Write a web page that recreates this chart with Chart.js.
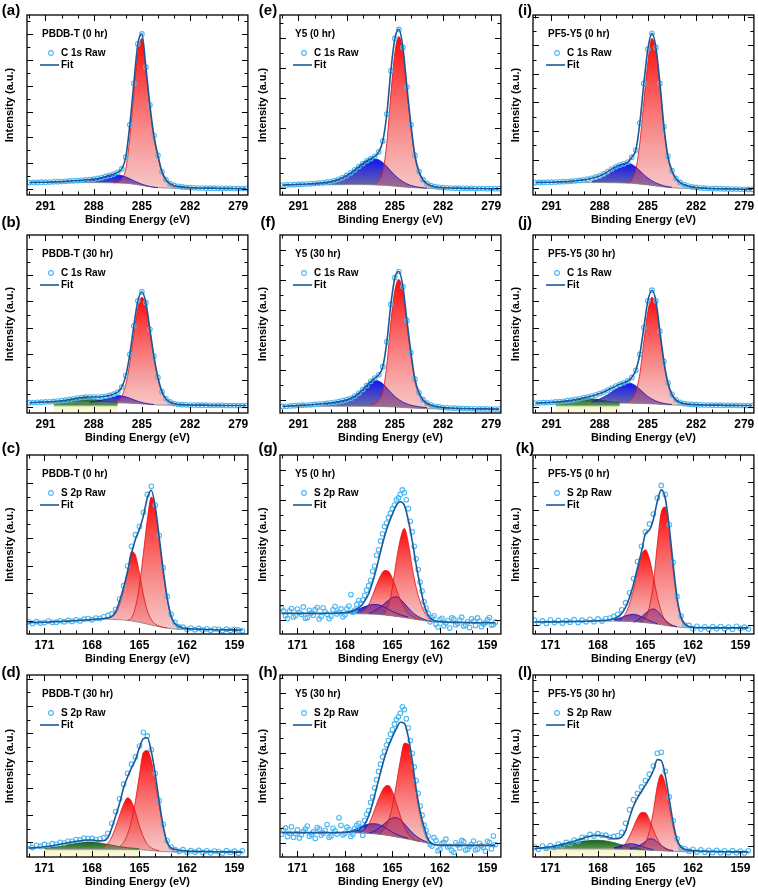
<!DOCTYPE html>
<html><head><meta charset="utf-8">
<script src="https://cdn.jsdelivr.net/npm/chart.js@4.4.1/dist/chart.umd.min.js"></script>
<style>
html,body{margin:0;padding:0;background:#fff;}
#wrap{position:relative;width:758px;height:893px;overflow:hidden;font-family:"Liberation Sans",Arial,sans-serif;}
.pc{position:absolute;}
.lab{position:absolute;font-weight:bold;font-size:15px;transform:translate(-50%,-50%);color:#000;white-space:nowrap;}
</style></head><body><div id="wrap"></div>
<script>
// ---------- energy grids (eV) ----------
const E_C = [292,291.75,291.5,291.25,291,290.75,290.5,290.25,290,289.75,289.5,289.25,289,288.75,288.5,288.25,288,287.75,287.5,287.25,287,286.75,286.5,286.25,286,285.75,285.5,285.25,285,284.75,284.5,284.25,284,283.75,283.5,283.25,283,282.75,282.5,282.25,282,281.75,281.5,281.25,281,280.75,280.5,280.25,280,279.75,279.5,279.25,279,278.75,278.5];
const E_S = [172,171.75,171.5,171.25,171,170.75,170.5,170.25,170,169.75,169.5,169.25,169,168.75,168.5,168.25,168,167.75,167.5,167.25,167,166.75,166.5,166.25,166,165.75,165.5,165.25,165,164.75,164.5,164.25,164,163.75,163.5,163.25,163,162.75,162.5,162.25,162,161.75,161.5,161.25,161,160.75,160.5,160.25,160,159.75,159.5,159.25,159,158.75,158.5];
const E_S2 = [171.875,171.625,171.375,171.125,170.875,170.625,170.375,170.125,169.875,169.625,169.375,169.125,168.875,168.625,168.375,168.125,167.875,167.625,167.375,167.125,166.875,166.625,166.375,166.125,165.875,165.625,165.375,165.125,164.875,164.625,164.375,164.125,163.875,163.625,163.375,163.125,162.875,162.625,162.375,162.125,161.875,161.625,161.375,161.125,160.875,160.625,160.375,160.125,159.875,159.625,159.375,159.125,158.875,158.625];
const TICKS_C = [291,288,285,282,279];
const TICKS_S = [171,168,165,162,159];

// ---------- (a) PBDB-T 0 hr, C 1s ----------
const a_fit = [6.9,7.0,7.0,7.1,7.1,7.2,7.3,7.4,7.5,7.6,7.8,7.9,8.0,8.2,8.4,8.6,8.8,9.2,9.7,10.3,10.9,11.6,12.6,14.5,21,39,62,84,89.5,71,50,33,22,13,8.5,6.3,5.3,4.8,4.5,4.3,4.1,4.0,3.9,3.9,3.8,3.8,3.8,3.7,3.7,3.7,3.7,3.6,3.6,3.6,3.6];
const a_bg = {e:[292,288,287,286,285.5,285,284.5,284,283,278.5], y:[6.9,6.9,6.8,6.5,6.0,5.3,4.6,4.1,3.7,3.5]};
const a_blue = {from:289, y:[7.0,7.2,7.5,7.9,8.4,9.0,9.6,10.2,10.7,11.0,11.1,10.8,10.0,9.0,7.9,6.9,6.0,5.3,4.7,4.3,4.1]};
const a_red = {from:286.75, y:[6.8,7.2,9.0,14.5,32,56,79,87,69,48.5,31.5,21,12.3,8.0,5.8,4.8,4.3,4.0,3.8]};

// ---------- (b) PBDB-T 30 hr, C 1s ----------
const b_fit = [5.8,5.9,6.0,6.1,6.2,6.3,6.5,6.7,6.9,7.2,7.6,8.0,8.4,8.7,8.9,9.0,9.0,9.0,9.1,9.4,9.9,10.6,11.8,14.5,21,33,49,63,68,62,47,32,20,12,8.0,6.2,5.3,4.9,4.7,4.6,4.5,4.5,4.4,4.4,4.4,4.3,4.3,4.3,4.3,4.2,4.2,4.2,4.2,4.2,4.2];
const b_bg = {e:[292,288,287,286,285.5,285,284.5,284,283,278.5], y:[5.8,5.8,5.8,5.6,5.4,5.1,4.8,4.5,4.3,4.2]};
const b_green = {from:290.5, y:[5.9,6.1,6.4,6.8,7.2,7.6,7.9,8.1,8.2,8.1,7.8,7.4,7.0,6.6,6.3,6.1,5.9]};
const b_blue = {from:288.25, y:[6.0,6.3,6.8,7.4,8.1,8.8,9.4,9.7,9.6,9.1,8.3,7.4,6.6,5.9,5.4,5.0,4.8]};
const b_red = {from:286.75, y:[6.0,7.0,9.5,16,28,44,59,65,60,45.5,31,19.4,11.6,7.7,6.0,5.1,4.7,4.5]};

// ---------- (e) Y5 0 hr, C 1s ----------
const e_fit = [5.5,5.6,5.7,5.8,5.9,6.0,6.1,6.2,6.4,6.6,6.8,7.1,7.5,8.0,8.7,9.7,10.9,12.3,14.0,15.8,17.5,19.0,20.2,21.5,24,30,45,69,87,92,82,60,39,22,13,8.5,6.3,5.2,4.6,4.3,4.1,4.0,3.9,3.8,3.8,3.7,3.7,3.7,3.6,3.6,3.6,3.5,3.5,3.5,3.5];
const e_bg = {e:[292,288.5,287.5,286.5,285.5,285,284.5,284,283,278.5], y:[5.5,5.7,5.8,5.7,5.3,4.9,4.5,4.1,3.7,3.5]};
const e_blue = {from:290, y:[5.9,6.0,6.2,6.4,6.8,7.3,8.0,9.0,10.3,11.9,13.6,15.3,17.0,18.5,19.6,20.0,19.5,18.0,15.8,13.3,11.0,9.0,7.4,6.2,5.3,4.7,4.3,4.0,3.8]};
const e_red = {from:286.25, y:[6.3,8,13,29,56,79,88,79,58,37.5,21,12.3,8,5.9,4.9,4.4,4.1]};

// ---------- (f) Y5 30 hr, C 1s ----------
const f_fit = [3.7,3.8,4.0,4.1,4.3,4.4,4.5,4.6,4.8,5.0,5.2,5.4,5.7,6.0,6.4,6.9,7.5,8.3,9.5,11.2,13.2,15.5,17.8,19.6,21.5,26,40,61,76,79.5,71,52,34,19,11.5,7.5,5.5,4.5,3.8,3.4,3.1,2.9,2.8,2.7,2.6,2.5,2.5,2.4,2.4,2.3,2.3,2.3,2.2,2.2,2.2];
const f_bg = {e:[292,288,287,286,285,284.5,284,283,278.5], y:[3.7,3.8,3.8,3.7,3.4,3.1,2.8,2.4,2.2]};
const f_blue = {from:289.5, y:[4.3,4.6,5.0,5.4,5.9,6.5,7.3,8.2,9.4,11.0,12.9,15.0,17.4,18.6,17.8,16.5,14.0,11.5,9.3,7.5,6.1,5.1,4.4,3.9,3.5,3.2,3.0]};
const f_red = {from:286.5, y:[4.6,5.2,7.5,12,27,51,69,75,67.5,49.5,32,17.5,10.3,6.6,4.8,3.9,3.3,2.9]};

// ---------- (i) PF5-Y5 0 hr, C 1s ----------
const i_fit = [6.9,7.0,7.0,7.1,7.1,7.2,7.3,7.4,7.5,7.7,7.9,8.1,8.4,8.8,9.3,9.9,10.6,11.7,13.0,14.4,15.7,16.6,17.3,18.3,21.0,25,40,62,81,89.8,82,62,38,21.5,13.5,9.2,7.0,5.8,5.0,4.5,4.2,4.0,3.8,3.7,3.6,3.5,3.5,3.4,3.4,3.3,3.3,3.2,3.2,3.1,3.1];
const i_bg = {e:[292,288,287,286,285,284.5,284,283,278.5], y:[6.9,6.9,6.8,6.5,5.6,5.0,4.4,3.7,3.1]};
const i_blue = {from:288.5, y:[7.6,8.1,9.0,10.2,11.7,13.3,14.8,16.2,17.2,17.6,17.0,15.5,13.5,11.3,9.4,7.9,6.7,5.8,5.1,4.6,4.3]};
const i_red = {from:286.25, y:[6.7,8.5,14,29,52,74,87,80,60.5,37,20.5,12.8,8.7,6.6,5.5,4.8,4.4,4.1]};

// ---------- (j) PF5-Y5 30 hr, C 1s ----------
const j_fit = [5.6,5.7,5.8,5.9,6.0,6.2,6.4,6.6,6.9,7.2,7.6,8.0,8.5,9.0,9.5,10.1,10.9,11.8,12.9,14.0,15.1,16.1,17.0,18.0,20,24,33,48,63,69,63,46,29,17,10.5,7.4,6.0,5.3,5.0,4.8,4.7,4.6,4.5,4.5,4.4,4.4,4.4,4.3,4.3,4.3,4.3,4.2,4.2,4.2,4.2];
const j_bg = {e:[292,288,287,286,285,284.5,284,283,278.5], y:[5.6,5.6,5.6,5.5,5.2,5.0,4.7,4.4,4.2]};
const j_green = {from:290.75, y:[5.7,5.9,6.2,6.6,7.0,7.4,7.8,8.0,8.1,8.0,7.8,7.4,7.0,6.6,6.2,5.9,5.7]};
const j_blue = {from:288.5, y:[6.3,7.0,7.9,9.0,10.3,11.8,13.3,14.8,16.0,16.8,16.5,15.2,13.3,11.2,9.3,7.8,6.7,5.9,5.4,5.0,4.8]};
const j_red = {from:286.25, y:[6.4,8,12,22,40,57,65,60,44,27.5,16,9.8,7.0,5.7,5.1,4.8]};

// ---------- (c) PBDB-T 0 hr, S 2p ----------
const c_fit = [6.3,6.4,6.5,6.5,6.6,6.7,6.8,6.9,7.0,7.1,7.2,7.3,7.5,7.6,7.8,7.9,8.1,8.3,8.5,8.7,9.0,9.8,12.5,18.5,26,35,45,53,58.5,66,76,80.3,71,54,36,20.5,10,5.8,4.3,3.4,3.1,2.9,2.8,2.7,2.6,2.5,2.5,2.4,2.4,2.4,2.3,2.3,2.3,2.2,2.2];
const c_raw = [6.8,5.9,6.9,6.1,6.4,7.2,6.5,6.6,7.4,6.8,7.6,7.0,7.9,7.3,8.3,8.6,8.0,8.9,8.7,9.6,10.4,11.2,13.8,19.5,27,38,49,55.5,60,68,78,82.5,72,55,37,21,11,6.5,4.0,3.8,2.6,3.3,2.4,3.1,2.2,2.9,2.1,2.8,2.6,1.9,2.7,2.0,2.6,2.3,1.8];
const c_bg = {e:[172,167,166,165.5,165,164.5,164,163.5,163,162.5,158.5], y:[6.3,8.3,7.8,7.3,6.5,5.5,4.5,3.6,3.0,2.6,2.2]};
const c_r1 = {from:165.75, y:[7.7,9,15,27,45,64,76.5,70,52,34,19.5,9.5,5.2,3.4,2.8]};
const c_r2 = {from:167, y:[8.8,9.5,11.5,16.5,25,35,46,44,34,22,13,8,5.5,4.4,3.7,3.4]};

// ---------- (d) PBDB-T 30 hr, S 2p ----------
const d_fit = [4.9,5.0,5.2,5.4,5.6,5.9,6.2,6.6,7.0,7.4,7.8,8.2,8.6,8.9,9.2,9.3,9.3,9.1,8.9,8.9,10.5,15.8,22.5,29.5,38,44,49,53.5,60,65,65.5,58,45.5,30.5,17,8,5.0,4.2,3.7,3.5,3.3,3.2,3.1,3.1,3.0,3.0,2.9,2.9,2.9,2.8,2.8,2.8,2.7,2.7,2.7];
const d_raw = [6.8,5.2,6.4,5.8,6.9,6.3,7.3,7.0,8.1,7.7,8.8,8.6,9.6,9.4,10.4,10.1,10.2,9.6,9.9,10.6,13.0,18.5,25,32,40,46,51,55,61,68.5,66.5,59,46,31,18,9,5.5,4.0,3.1,4.0,2.6,3.5,2.7,3.6,2.5,3.4,2.4,3.3,3.0,2.2,3.5,2.6,3.2,2.1,3.4];
const d_bg = {e:[172,167,166,165,164.5,164,163.5,163,158.5], y:[4.9,4.6,4.4,4.0,3.7,3.3,3.0,2.8,2.7]};
const d_green = {from:171, y:[5.0,5.1,5.3,5.6,5.9,6.3,6.7,7.1,7.5,7.8,8.1,8.2,8.2,8.0,7.7,7.3,6.9,6.5,6.1,5.7,5.4,5.1,4.9,4.7,4.5]};
const d_r1 = {from:166.25, y:[5.5,8,12.5,20,31,45,57.5,58.5,53,41,28,16.5,8.5,4.6,3.2,2.8]};
const d_r2 = {from:167.25, y:[5.5,7.5,11,16.5,23,29,32.5,30.5,24.5,17,11,7,5,4,3.5]};

// ---------- (g) Y5 0 hr, S 2p ----------
const g_fit = [11.5,11.5,11.5,11.5,11.5,11.5,11.5,11.5,11.5,11.5,11.5,11.6,11.6,11.6,11.7,11.8,12.0,12.4,13.0,14.0,15.5,18.5,22.5,29,37,46,54.5,61.5,67,72,73.9,72,63.7,52,38.5,27,16.5,10.6,8.2,7.2,6.9,6.7,6.6,6.5,6.5,6.4,6.4,6.4,6.3,6.3,6.3,6.3,6.3,6.3,6.3];
const g_raw = [14.5,10.2,12.8,9.5,13.9,11.0,8.8,13.2,10.5,14.8,9.8,12.4,8.6,13.5,11.2,14.0,10.8,15.6,12.2,16.5,17.2,21.5,27,35,44,52,60,65,70,75,78,79,70,57,42,29,18,11.5,9.2,5.5,8.1,4.6,7.5,9.0,5.2,7.8,4.4,6.8,8.5,4.8,7.2,5.6,8.0,4.9,6.6];
const g_raw2 = [12.9,8.7,14.2,10.4,12.0,15.1,9.2,11.8,13.6,8.4,14.6,11.1,9.9,15.3,12.3,9.6,14.1,22,13.3,18.7,19.0,24.5,30,38,47,56,62,67.5,72,76,80.5,75,63,49,36,24,14.5,6.8,10.2,3.9,8.8,6.1,3.3,8.3,6.0,9.4,5.0,3.6,7.1,9.0,4.1,6.4,9.2,5.3];
const g_bg = {e:[172,167.5,166.5,166,165.5,165,164.5,164,163.5,163,162.5,158.5], y:[11.5,11.4,11.2,11.0,10.6,10.1,9.5,8.8,8.1,7.4,6.8,6.3]};
const g_r1 = {from:165.5, y:[11,16,26,41,53,59,51,37,26,18,12.5,9.0,7.2,6.8]};
const g_r2 = {from:167, y:[12,13.5,16.5,21.5,27.5,32.5,35.5,35,31,25,19,14.5,11.5,9.8,8.8,8.0]};
const g_b1 = {from:166.5, y:[11.4,12.3,13.6,15.2,17.0,18.8,20.4,20.7,19.5,17.2,14.6,12.3,10.5,9.2,8.2,7.5,7.0]};
const g_b2 = {from:168, y:[11.7,12.1,12.7,13.5,14.4,15.3,16.1,16.5,16.5,16.0,15.0,13.8,12.6,11.6,10.8,10.1,9.5]};

// ---------- (h) Y5 30 hr, S 2p ----------
const h_fit = [13.4,13.4,13.4,13.4,13.4,13.4,13.4,13.4,13.4,13.4,13.4,13.4,13.4,13.4,13.4,13.5,13.6,13.8,14.1,14.6,15.5,18.0,22.5,29.5,38,46.5,54.5,61,66,70.5,74,73.5,66,53.2,37.5,25,16.5,9.8,7.3,6.6,6.4,6.4,6.4,6.4,6.4,6.4,6.4,6.4,6.4,6.4,6.4,6.4,6.4,6.4,6.4];
const h_raw = [12.5,16.0,13.0,10.8,14.9,12.2,15.5,11.4,13.8,16.2,12.0,14.7,10.9,15.8,12.6,17.4,13.0,15.2,12.5,17.5,16.3,20,25.5,33,42.5,51,58,64,70,75.5,79,81,71,57,42,28,17.5,11.5,6.0,9.0,4.2,8.0,5.5,3.6,7.8,5.0,8.4,4.3,6.9,3.9,7.5,5.2,8.6,4.6,6.8];
const h_raw2 = [14.8,11.2,16.6,12.9,10.5,14.2,17.0,12.4,10.2,15.4,13.1,17.8,11.6,14.4,21.5,12.2,16.4,11.3,15.8,18.5,12.0,23.5,30,38,47,55,61.5,67.5,73,77,82.5,76,64,49.5,35,23,14.5,7.0,10.6,3.5,7.3,9.8,5.9,2.6,6.6,9.1,3.8,5.8,8.8,4.4,6.2,3.2,7.9,11.5];
const h_bg = {e:[172,167,166.5,166,165.5,165,164.5,164,163.5,163,162.5,158.5], y:[13.4,13.2,13.0,12.6,12.1,11.4,10.6,9.8,8.9,8.0,6.9,6.4]};
const h_r1 = {from:165.75, y:[13,15.5,20,28,40,53,62.5,62,49,35,23,14,9,7.2,6.7]};
const h_r2 = {from:167, y:[13.5,15,18,23,29,34.5,38.5,39.3,36,29.5,22.5,16.5,12.5,10.2,9.0,8.6]};
const h_b1 = {from:166.5, y:[13.1,13.8,15.0,16.6,18.4,20.2,21.4,21.6,20.5,18.3,15.8,13.4,11.5,10.0,8.9,8.0,7.3]};
const h_b2 = {from:168, y:[13.5,14.0,14.7,15.6,16.6,17.5,18.1,18.3,18.2,17.5,16.4,15.0,13.6,12.5,11.6,10.9,10.3]};

// ---------- (k) PF5-Y5 0 hr, S 2p ----------
const k_fit = [6.7,6.7,6.7,6.8,6.8,6.8,6.8,6.9,6.9,6.9,7.0,7.0,7.1,7.1,7.2,7.3,7.4,7.5,7.7,8.0,8.5,9.5,11.5,15,20.5,28,37,46,56,58,64,74,80.5,76,60,39,20,9.5,5.5,4.2,3.8,3.6,3.5,3.5,3.4,3.4,3.4,3.4,3.4,3.4,3.4,3.4,3.4,3.4,3.4];
const k_raw = [7.8,6.0,7.3,5.9,7.9,6.4,7.6,6.1,7.5,6.6,8.0,6.4,7.7,6.8,8.2,6.9,8.4,7.2,8.6,8.9,9.8,11,13.5,17.5,23,31,40.5,49,57,61.5,67,76,83,78,61,40,21,10,5,4.8,3.0,4.3,2.8,4.0,2.7,4.1,3.0,4.2,2.9,3.9,2.6,4.3,3.1,3.8,2.8];
const k_bg = {e:[172,167,166,165.5,165,164.5,164,163.5,163,162.5,158.5], y:[6.7,7.2,7.0,6.7,6.3,5.8,5.2,4.5,3.9,3.5,3.4]};
const k_r1 = {from:165.25, y:[6.5,9,15,28,50,68,71,56,36,18.5,8.5,4.8,3.8]};
const k_r2 = {from:166.5, y:[8.5,11.5,17,25,35,44,47,42,32,21,12.5,7.5,5.2,4.4]};
const k_b1 = {from:165.75, y:[6.5,7.8,9.6,11.6,13.3,14.0,12.8,10.3,7.8,5.9,4.7,4.1]};
const k_b2 = {from:167, y:[7.9,8.5,9.3,10.2,10.8,11.0,10.6,9.7,8.6,7.5,6.5,5.7]};

// ---------- (l) PF5-Y5 30 hr, S 2p ----------
const l_fit = [4.6,4.8,5.0,5.3,5.6,6.0,6.5,7.0,7.5,8.1,8.7,9.4,10.1,10.8,11.4,11.8,11.9,11.7,11.2,10.6,10.0,10.0,11.0,14.5,21.8,28,32.5,36,39.5,43,47.5,53.5,53,45,32,19,9.5,5.5,4.2,3.8,3.6,3.4,3.3,3.2,3.1,3.0,3.0,2.9,2.9,2.9,2.8,2.8,2.8,2.8,2.8];
const l_raw = [5.5,4.2,6.0,4.8,6.2,5.3,7.1,6.2,8.0,7.5,9.3,8.8,10.8,10.5,12.4,11.5,12.8,11.9,12.0,10.8,11.3,11.8,13.5,18.5,26,31.5,35,38.5,42,45.5,50,57,57.5,47,33,20,10,5.0,4.5,3.2,4.2,2.7,3.9,2.6,3.7,2.5,3.6,2.4,3.4,2.3,3.5,2.4,3.3,2.2,3.4];
const l_bg = {e:[172,168,167,166,165.5,165,164.5,164,163.5,163,162.5,158.5], y:[4.6,4.5,4.4,4.2,4.0,3.8,3.6,3.4,3.2,3.0,2.9,2.8]};
const l_green = {from:171.5, y:[4.9,5.1,5.3,5.6,6.0,6.4,6.9,7.3,7.8,8.2,8.6,8.9,9.1,9.2,9.2,9.1,8.8,8.4,7.9,7.3,6.7,6.1,5.5,5.0,4.6,4.3,4.0]};
const l_r1 = {from:165.25, y:[5.5,8,14,25,39,45.5,40,28,16.5,8.5,4.8,3.5,3.1]};
const l_r2 = {from:166.5, y:[5.2,7.5,11.5,16.5,21.5,24.5,24.3,20.5,15,10,6.5,4.6,3.7]};
const l_b1 = {from:166, y:[4.4,5.0,5.8,7.0,8.5,10.0,9.8,8.3,6.4,4.9,4.0,3.5]};
const l_b2 = {from:167, y:[5.0,5.6,6.3,6.9,7.3,7.2,6.7,5.9,5.1,4.5,4.1]};

// ---------- panel table ----------
const PANELS = [
  {lab:'(a)',col:0,row:0,kind:'C',name:'PBDB-T (0 hr)', fit:a_fit,raw:a_fit,bg:a_bg,comps:[['red',a_red],['blue',a_blue]],yt:[7.2,3.15]},
  {lab:'(b)',col:0,row:1,kind:'C',name:'PBDB-T (30 hr)',fit:b_fit,raw:b_fit,bg:b_bg,comps:[['red',b_red],['blue',b_blue],['green',b_green]],yt:[7.4,3.5]},
  {lab:'(c)',col:0,row:2,kind:'S',name:'PBDB-T (0 hr)', fit:c_fit,raw:c_raw,bg:c_bg,comps:[['red',c_r1],['red',c_r2]],yt:[7.7,7.4]},
  {lab:'(d)',col:0,row:3,kind:'S',name:'PBDB-T (30 hr)',fit:d_fit,raw:d_raw,bg:d_bg,comps:[['red',d_r1],['red',d_r2],['green',d_green]],yt:[7.5,8.0]},
  {lab:'(e)',col:1,row:0,kind:'C',name:'Y5 (0 hr)',     fit:e_fit,raw:e_fit,bg:e_bg,comps:[['red',e_red],['blue',e_blue]],yt:[8.3,4.0]},
  {lab:'(f)',col:1,row:1,kind:'C',name:'Y5 (30 hr)',    fit:f_fit,raw:f_fit,bg:f_bg,comps:[['red',f_red],['blue',f_blue]],yt:[8.4,7.5]},
  {lab:'(g)',col:1,row:2,kind:'S',name:'Y5 (0 hr)',     fit:g_fit,raw:g_raw,raw2:g_raw2,bg:g_bg,comps:[['red',g_r1],['red',g_r2],['blue',g_b1],['blue',g_b2]],yt:[8.4,7.8]},
  {lab:'(h)',col:1,row:3,kind:'S',name:'Y5 (30 hr)',    fit:h_fit,raw:h_raw,raw2:h_raw2,bg:h_bg,comps:[['red',h_r1],['red',h_r2],['blue',h_b1],['blue',h_b2]],yt:[8.25,7.7]},
  {lab:'(i)',col:2,row:0,kind:'C',name:'PF5-Y5 (0 hr)', fit:i_fit,raw:i_fit,bg:i_bg,comps:[['red',i_red],['blue',i_blue]],yt:[7.95,3.7]},
  {lab:'(j)',col:2,row:1,kind:'C',name:'PF5-Y5 (30 hr)',fit:j_fit,raw:j_fit,bg:j_bg,comps:[['red',j_red],['blue',j_blue],['green',j_green]],yt:[7.4,3.5]},
  {lab:'(k)',col:2,row:2,kind:'S',name:'PF5-Y5 (0 hr)', fit:k_fit,raw:k_raw,bg:k_bg,comps:[['red',k_r1],['red',k_r2],['blue',k_b1],['blue',k_b2]],yt:[8.0,5.0]},
  {lab:'(l)',col:2,row:3,kind:'S',name:'PF5-Y5 (30 hr)',fit:l_fit,raw:l_raw,bg:l_bg,comps:[['red',l_r1],['red',l_r2],['blue',l_b1],['blue',l_b2],['green',l_green]],yt:[6.1,5.9]}
];

// ---------- styling / layout ----------
const FONT = '"Liberation Sans", Arial, sans-serif';
const RAW_C = '#4db8f2';
const FIT_C = '#1a5a9a';
const COMP = {
  red:  {line:'#e01010', toOrigin:false, stops:[[0,'rgba(255,0,0,0.97)'],[1,'rgba(236,110,110,0.40)']]},
  blue: {line:'#1212b8', toOrigin:false, stops:[[0,'rgba(10,10,245,0.97)'],[1,'rgba(60,60,140,0.75)']]},
  green:{line:'#1d5a1d', toOrigin:true,  stops:[[0,'rgba(18,92,28,0.97)'],[0.42,'rgba(60,135,55,0.92)'],[0.56,'rgba(246,243,200,0.9)'],[1,'rgba(253,251,222,0.9)']]}
};
const CW = 253, CH = 236, COLX = 253, ROWY = 220, PTOP = 15;
const PH = [180, 178, 179, 182];
const LABX = [11, 268, 525], LABY = [9, 221, 447, 671];

function pts(E, ys){ return ys.map((v,i)=>({x:E[i], y:v})); }
function compPts(E, c){
  const i0 = E.findIndex(e => Math.abs(e - c.from) < 1e-6);
  return c.y.map((v,i)=>({x:E[i0+i], y:v}));
}
function grad(col, ymax, ymin){
  return (ctx) => {
    const ch = ctx.chart, ys = ch.scales && ch.scales.y;
    if (!ch.chartArea || !ys) return col.stops[0][1];
    const y0 = ys.getPixelForValue(ymax), y1 = ys.getPixelForValue(ymin);
    const g = ch.ctx.createLinearGradient(0, y0, 0, y1 + 0.5);
    col.stops.forEach(([o, c]) => g.addColorStop(o, c));
    return g;
  };
}

const deco = {
  id:'deco',
  afterDraw(chart, args, opts){
    const p = opts.p; if (!p) return;
    const {ctx, chartArea:a, scales:{x, y}} = chart;
    ctx.save();
    ctx.strokeStyle = '#000';
    ctx.lineWidth = 1;
    const majors = p.kind === 'C' ? TICKS_C : TICKS_S;
    const lo = Math.ceil(Math.min(x.min, x.max)), hi = Math.floor(Math.max(x.min, x.max));
    ctx.beginPath();
    for (let e = lo; e <= hi; e++){
      const px = Math.round(x.getPixelForValue(e)) + 0.5;
      const L = majors.includes(e) ? 6 : 3.5;
      ctx.moveTo(px, a.bottom); ctx.lineTo(px, a.bottom - L);
      ctx.moveTo(px, a.top); ctx.lineTo(px, a.top + L);
    }
    const [step, start] = p.yt;
    for (let k = 0; start + k*step < 99.5; k++){
      const py = Math.round(y.getPixelForValue(start + k*step)) + 0.5;
      const L = (k % 2 === 0) ? 6 : 3.5;
      ctx.moveTo(a.left, py); ctx.lineTo(a.left + L, py);
      ctx.moveTo(a.right, py); ctx.lineTo(a.right - L, py);
    }
    ctx.stroke();
    ctx.lineWidth = 1.3;
    ctx.strokeRect(a.left, a.top, a.right - a.left, a.bottom - a.top);
    ctx.fillStyle = '#000';
    ctx.font = 'bold 10px ' + FONT;
    ctx.textBaseline = 'middle';
    ctx.textAlign = 'left';
    ctx.fillText(p.name, a.left + 15, a.top + 19);
    ctx.beginPath();
    ctx.arc(a.left + 24, a.top + 38, 2.4, 0, Math.PI*2);
    ctx.strokeStyle = RAW_C; ctx.lineWidth = 1.1; ctx.stroke();
    ctx.fillText(p.kind === 'C' ? 'C 1s Raw' : 'S 2p Raw', a.left + 34, a.top + 38);
    ctx.beginPath();
    ctx.moveTo(a.left + 13, a.top + 50); ctx.lineTo(a.left + 32, a.top + 50);
    ctx.strokeStyle = FIT_C; ctx.lineWidth = 1.6; ctx.stroke();
    ctx.fillText('Fit', a.left + 34, a.top + 50);
    ctx.restore();
  }
};

const wrap = document.getElementById('wrap');
PANELS.forEach(p => {
  const E = p.kind === 'C' ? E_C : E_S;
  const ph = PH[p.row];
  const xh = CH - PTOP - ph;
  const titlePadBottom = xh - 25 - 6.6;
  const cv = document.createElement('canvas');
  cv.className = 'pc';
  cv.width = CW; cv.height = CH;
  cv.style.width = CW + 'px'; cv.style.height = CH + 'px';
  cv.style.left = (p.col * COLX) + 'px';
  cv.style.top = (p.row * ROWY) + 'px';
  wrap.appendChild(cv);

  const lab = document.createElement('div');
  lab.className = 'lab';
  lab.textContent = p.lab;
  lab.style.left = LABX[p.col] + 'px';
  lab.style.top = LABY[p.row] + 'px';
  wrap.appendChild(lab);

  const rawStyle = {showLine:false, pointStyle:'circle', pointRadius:2.3, pointBorderWidth:1.1,
                    pointBorderColor:RAW_C, pointBackgroundColor:'rgba(255,255,255,0)', borderColor:RAW_C, fill:false};
  const datasets = [];
  datasets.push({label:'Fit', data:pts(E, p.fit), borderColor:FIT_C, borderWidth:1.6, pointRadius:0,
                 cubicInterpolationMode:'monotone', fill:false});
  datasets.push(Object.assign({label:(p.kind==='C'?'C 1s Raw':'S 2p Raw'), data:pts(E, p.raw)}, rawStyle));
  if (p.raw2) datasets.push(Object.assign({label:'Raw (interleaved)', data:pts(E_S2, p.raw2)}, rawStyle));
  const bgIndex = datasets.length + p.comps.length;
  p.comps.forEach(([kind, c]) => {
    const col = COMP[kind];
    const ymax = Math.max(...c.y), ymin = col.toOrigin ? 0 : Math.min(...c.y);
    datasets.push({label:kind, data:compPts(E, c), borderColor:col.line, borderWidth:0.8, pointRadius:0,
                   cubicInterpolationMode:'monotone', fill: col.toOrigin ? 'origin' : {target:bgIndex},
                   backgroundColor:grad(col, ymax, ymin)});
  });
  datasets.push({label:'Background', data:p.bg.e.map((e,i)=>({x:e, y:p.bg.y[i]})), borderColor:'#808080',
                 borderWidth:0.8, pointRadius:0, tension:0, fill:false});

  const xr = p.kind === 'C' ? {min:278.4, max:292.15} : {min:158.15, max:172.1};
  const majors = p.kind === 'C' ? TICKS_C : TICKS_S;

  new Chart(cv, {
    type:'line',
    data:{datasets},
    options:{
      responsive:false, animation:false, devicePixelRatio:1,
      events:[],
      layout:{padding:{left:0, right:4, top:PTOP, bottom:0}},
      plugins:{legend:{display:false}, tooltip:{enabled:false}, title:{display:false},
               filler:{drawTime:'beforeDatasetsDraw'}, deco:{p}},
      scales:{
        x:{type:'linear', reverse:true, min:xr.min, max:xr.max,
           grid:{display:false, drawTicks:false}, border:{display:false},
           ticks:{color:'#000', font:{family:FONT, size:12, weight:'bold'}, padding:4, maxRotation:0, autoSkip:false},
           afterBuildTicks:(s)=>{ s.ticks = majors.map(v=>({value:v})); },
           afterFit:(s)=>{ s.height = xh; },
           title:{display:true, text:'Binding Energy (eV)', color:'#000',
                  font:{family:FONT, size:11, weight:'bold'}, padding:{top:0, bottom:titlePadBottom}}},
        y:{type:'linear', min:0, max:100,
           grid:{display:false, drawTicks:false}, border:{display:false}, ticks:{display:false},
           afterFit:(s)=>{ s.width = 27; },
           title:{display:true, text:'Intensity (a.u.)', color:'#000',
                  font:{family:FONT, size:11, weight:'bold'}, padding:{top:3.4, bottom:0}}}
      }
    },
    plugins:[deco]
  });
});
</script></body></html>
